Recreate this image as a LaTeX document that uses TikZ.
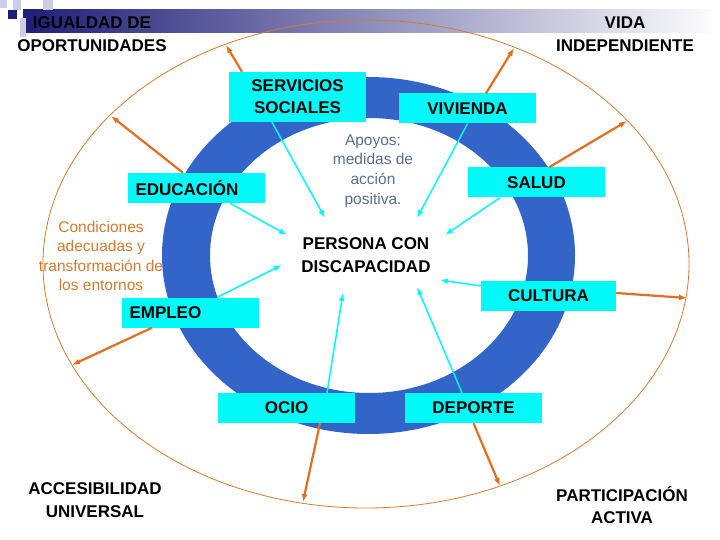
\documentclass[tikz,border=0pt]{standalone}
\usepackage{fontspec}
\setmainfont{Liberation Sans}
\usetikzlibrary{arrows.meta}

\definecolor{ciano}{RGB}{0,250,250}
\definecolor{azulanel}{RGB}{51,100,200}
\definecolor{laranja}{RGB}{226,110,32}
\definecolor{laranjaclaro}{RGB}{214,122,48}
\definecolor{cinzaazul}{RGB}{92,110,140}
\definecolor{marinho}{RGB}{30,30,120}
\definecolor{lilas}{RGB}{205,205,232}

\begin{document}
\begin{tikzpicture}[x=1pt, y=-1pt,
  caixa/.style={fill=ciano, minimum width=137, minimum height=30, inner sep=0pt,
    font=\bfseries\fontsize{17}{22}\selectfont, align=center},
  titulo/.style={font=\bfseries\fontsize{17}{22.5}\selectfont, align=center},
  seta/.style={-{Latex[length=8pt,width=6pt]}, laranja, line width=2.2pt},
  setac/.style={-{Latex[length=8pt,width=6pt]}, ciano, line width=1.5pt}]
  \useasboundingbox (0,0) rectangle (720,540);

  % --- cabeçalho ---
  \shade[left color=marinho, right color=white!94!lilas] (23,10) rectangle (712,33);
  \fill[lilas] (0,0) rectangle (7,8);
  \fill[lilas] (13,0) rectangle (21,10);
  \fill[lilas] (20,18) rectangle (26,37);
  \fill[lilas] (43,0) rectangle (53,10);
  \fill[marinho] (8,10) rectangle (17,19);

  % elipse externa
  \draw[laranjaclaro, line width=0.8pt] (366,264) ellipse [x radius=323, y radius=244];

  % anel azul
  \fill[azulanel, even odd rule] (368.5,255.5) ellipse [x radius=206.5, y radius=178.5]
    (369,255.5) ellipse [x radius=159, y radius=137.5];

  % pontos sobre a elipse externa
  \coordinate (eServ) at (226,45);
  \coordinate (eViv) at (514,48);
  \coordinate (eEdu) at (111,116);
  \coordinate (eSal) at (627,121);
  \coordinate (eCul) at (687,298);
  \coordinate (eEmp) at (72,365);
  \coordinate (eOcio) at (303,502);
  \coordinate (eDep) at (500,486);

  % pontas das setas internas
  \coordinate (tServ) at (325,218);
  \coordinate (tViv) at (417,218);
  \coordinate (tEdu) at (287,235);
  \coordinate (tSal) at (445,235);
  \coordinate (tEmp) at (282,265);
  \coordinate (tCul) at (440,280);
  \coordinate (tOcio) at (343,293);
  \coordinate (tDep) at (417,287);

  % --- caixas ---
  \node[caixa, minimum height=50] (servicios) at (297.5,97) {SERVICIOS\\SOCIALES};
  \node[caixa] (vivienda) at (467.5,108.5) {VIVIENDA};
  \node[caixa] (salud) at (536.5,182.5) {SALUD};
  \node[caixa, text width=121, inner xsep=8pt, align=left] (educacion) at (196,188) {EDUCACIÓN};
  \node[caixa, minimum width=135] (cultura) at (548.5,296) {CULTURA};
  \node[caixa, text width=121, inner xsep=8pt, align=left] (empleo) at (190,312.5) {EMPLEO};
  \node[caixa] (ocio) at (286.5,408) {OCIO};
  \node[caixa] (deporte) at (473.5,408) {DEPORTE};

  % textos
  \node[titulo] (persona) at (366,255) {PERSONA CON\\DISCAPACIDAD};
  \node[cinzaazul, align=center, font=\fontsize{15.5}{19.7}\selectfont] (apoyos) at (373,171)
    {Apoyos:\\medidas de\\acción\\positiva.};
  \node[laranjaclaro, align=center, font=\fontsize{15.5}{19.3}\selectfont] (condiciones) at (101,256)
    {Condiciones\\adecuadas y\\transformación de\\los entornos};
  \node[titulo] (igualdad) at (92,34) {IGUALDAD DE\\OPORTUNIDADES};
  \node[titulo] (vida) at (625,34) {VIDA\\INDEPENDIENTE};
  \node[titulo] (accesib) at (95,500) {ACCESIBILIDAD\\UNIVERSAL};
  \node[titulo] (particip) at (622,505) {PARTICIPACIÓN\\ACTIVA};

  % --- setas para fora (laranja) ---
  \draw[seta] ([xshift=-55.5pt]servicios.north) -- (eServ);
  \draw[seta] ([xshift=18.5pt]vivienda.north) -- (eViv);
  \draw[seta] ([xshift=-13pt]educacion.north) -- (eEdu);
  \draw[seta] ([xshift=12.5pt]salud.north) -- (eSal);
  \draw[seta] ([yshift=3pt]cultura.east) -- (eCul);
  \draw[seta] ([xshift=-38pt]empleo.south) -- (eEmp);
  \draw[seta] ([xshift=33.5pt]ocio.south) -- (eOcio);
  \draw[seta] (deporte.south) -- (eDep);

  % --- setas para dentro (ciano) ---
  \draw[setac] ([xshift=-25.5pt]servicios.south) -- (tServ);
  \draw[setac] (vivienda.south) -- (tViv);
  \draw[setac] ([xshift=34pt]educacion.south) -- (tEdu);
  \draw[setac] ([xshift=-36.5pt]salud.south) -- (tSal);
  \draw[setac] ([xshift=27pt]empleo.north) -- (tEmp);
  \draw[setac] ([yshift=10pt]cultura.west) -- (tCul);
  \draw[setac] ([xshift=40.5pt]ocio.north) -- (tOcio);
  \draw[setac] ([xshift=-11.5pt]deporte.north) -- (tDep);
\end{tikzpicture}
\end{document}
